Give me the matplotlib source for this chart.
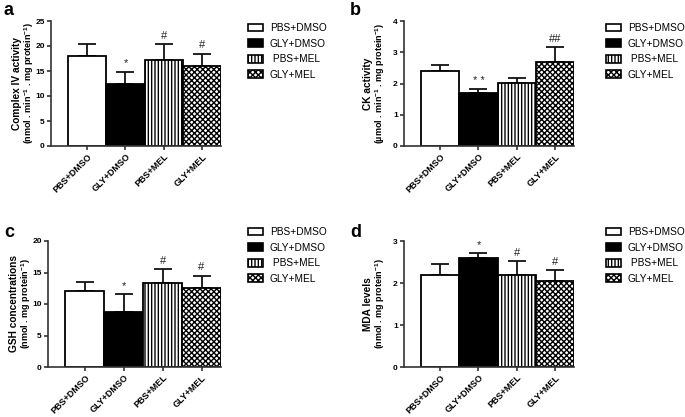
import matplotlib
matplotlib.use('Agg')
import matplotlib.pyplot as plt
from matplotlib.patches import Patch

plt.rcParams['font.family'] = ['Liberation Sans', 'DejaVu Sans']
plt.rcParams['hatch.linewidth'] = 1.0
plt.rcParams['mathtext.fontset'] = 'custom'
plt.rcParams['mathtext.bf'] = 'Liberation Sans:bold'
plt.rcParams['mathtext.rm'] = 'Liberation Sans'

groups = ['PBS+DMSO', 'GLY+DMSO', 'PBS+MEL', 'GLY+MEL']
legend_labels = ['PBS+DMSO', 'GLY+DMSO', ' PBS+MEL', 'GLY+MEL']

complex4_mean = [18.0, 12.5, 17.2, 16.1]
complex4_err = [2.5, 2.4, 3.2, 2.4]
complex4_sig = ['', '*', '#', '#']

ck_mean = [2.39, 1.71, 2.02, 2.70]
ck_err = [0.20, 0.11, 0.16, 0.47]
ck_sig = ['', '* *', '', '##']

gsh_mean = [12.0, 8.7, 13.4, 12.5]
gsh_err = [1.5, 2.9, 2.1, 2.0]
gsh_sig = ['', '*', '#', '#']

mda_mean = [2.19, 2.60, 2.19, 2.04]
mda_err = [0.26, 0.12, 0.34, 0.26]
mda_sig = ['', '*', '#', '#']

fills = ['white', 'black', 'white', 'white']
hatches = [None, None, '|||||', 'xxxxxx']

fig = plt.figure(figsize=(6.85, 4.17), dpi=100)

W, H = 685, 417
SUP = '$^{\\mathbf{-1}}$'


def make_ax(left, right, top, bottom):
    return fig.add_axes([left / W, 1 - bottom / H, (right - left) / W, (bottom - top) / H])


def panel(ax, means, errs, sigs, ymax, ystep, title1, title2, y_cx, letter, lx, ly, legx, legy):
    x = list(range(len(groups)))
    ax.bar(x, means, width=1.0, color=fills, edgecolor='black', linewidth=1.3,
           hatch=hatches, zorder=2)
    ax.errorbar(x, means, yerr=[[0] * 4, errs], fmt='none', ecolor='#111111',
                elinewidth=1.3, capsize=6.5, capthick=1.3, zorder=1)
    for xi, m, e, s in zip(x, means, errs, sigs):
        if s:
            ax.text(xi, m + e + ymax * 0.025, s, ha='center', va='bottom',
                    fontsize=8, color='#222222')
    ax.set_xlim(-0.95, 3.5)
    ax.set_ylim(0, ymax)
    ticks = [i * ystep for i in range(int(round(ymax / ystep)) + 1)]
    ax.set_yticks(ticks)
    ax.set_yticklabels([('%g' % t) for t in ticks], fontsize=6, fontweight='bold')
    ax.set_xticks(x)
    ax.set_xticklabels(groups, rotation=45, ha='right', rotation_mode='anchor',
                       fontsize=6.5, fontweight='bold')
    ax.tick_params(length=3, width=1.2, color='#333333', pad=1.5)
    for sp in ['top', 'right']:
        ax.spines[sp].set_visible(False)
    for sp in ['left', 'bottom']:
        ax.spines[sp].set_linewidth(1.2)
        ax.spines[sp].set_color('#333333')
    # two-line y title, drawn as two texts
    bb = ax.get_position()
    yc = (bb.y0 + bb.y1) / 2
    fig.text(y_cx / W, yc, title1, rotation=90, ha='center', va='center',
             fontsize=7.3, fontweight='bold')
    fig.text((y_cx + 12) / W, yc, title2, rotation=90, ha='center', va='center',
             fontsize=6.5, fontweight='bold')
    fig.text(lx / W, 1 - ly / H, letter, fontsize=13, fontweight='bold', va='top', ha='left')
    handles = [Patch(facecolor=f, edgecolor='black', hatch=h, linewidth=1.2)
               for f, h in zip(fills, hatches)]
    ax.legend(handles, legend_labels, loc='upper left', frameon=False,
              bbox_to_anchor=(legx / W, 1 - legy / H), bbox_transform=fig.transFigure,
              fontsize=7.3, handlelength=1.5, handleheight=0.8, handletextpad=0.65,
              labelspacing=0.55, borderpad=0, borderaxespad=0)


ax_a = make_ax(51, 221, 21, 146)
panel(ax_a, complex4_mean, complex4_err, complex4_sig, 25, 5,
      'Complex IV activity', '(nmol . min' + SUP + ' . mg protein' + SUP + ')', 17,
      'a', 4, 2, 248, 23)

ax_b = make_ax(404, 574, 21, 146)
panel(ax_b, ck_mean, ck_err, ck_sig, 4, 1,
      'CK activity', '(\u00b5mol . min' + SUP + ' . mg protein' + SUP + ')', 368,
      'b', 350, 2, 606, 23)

ax_c = make_ax(48, 221, 241, 367)
panel(ax_c, gsh_mean, gsh_err, gsh_sig, 20, 5,
      'GSH concentrations', '(nmol . mg protein' + SUP + ')', 14,
      'c', 4, 224, 248, 227)

ax_d = make_ax(404, 574, 241, 367)
panel(ax_d, mda_mean, mda_err, mda_sig, 3, 1,
      'MDA levels', '(nmol . mg protein' + SUP + ')', 368,
      'd', 350, 224, 606, 227)

fig.savefig('out.png', dpi=100)
